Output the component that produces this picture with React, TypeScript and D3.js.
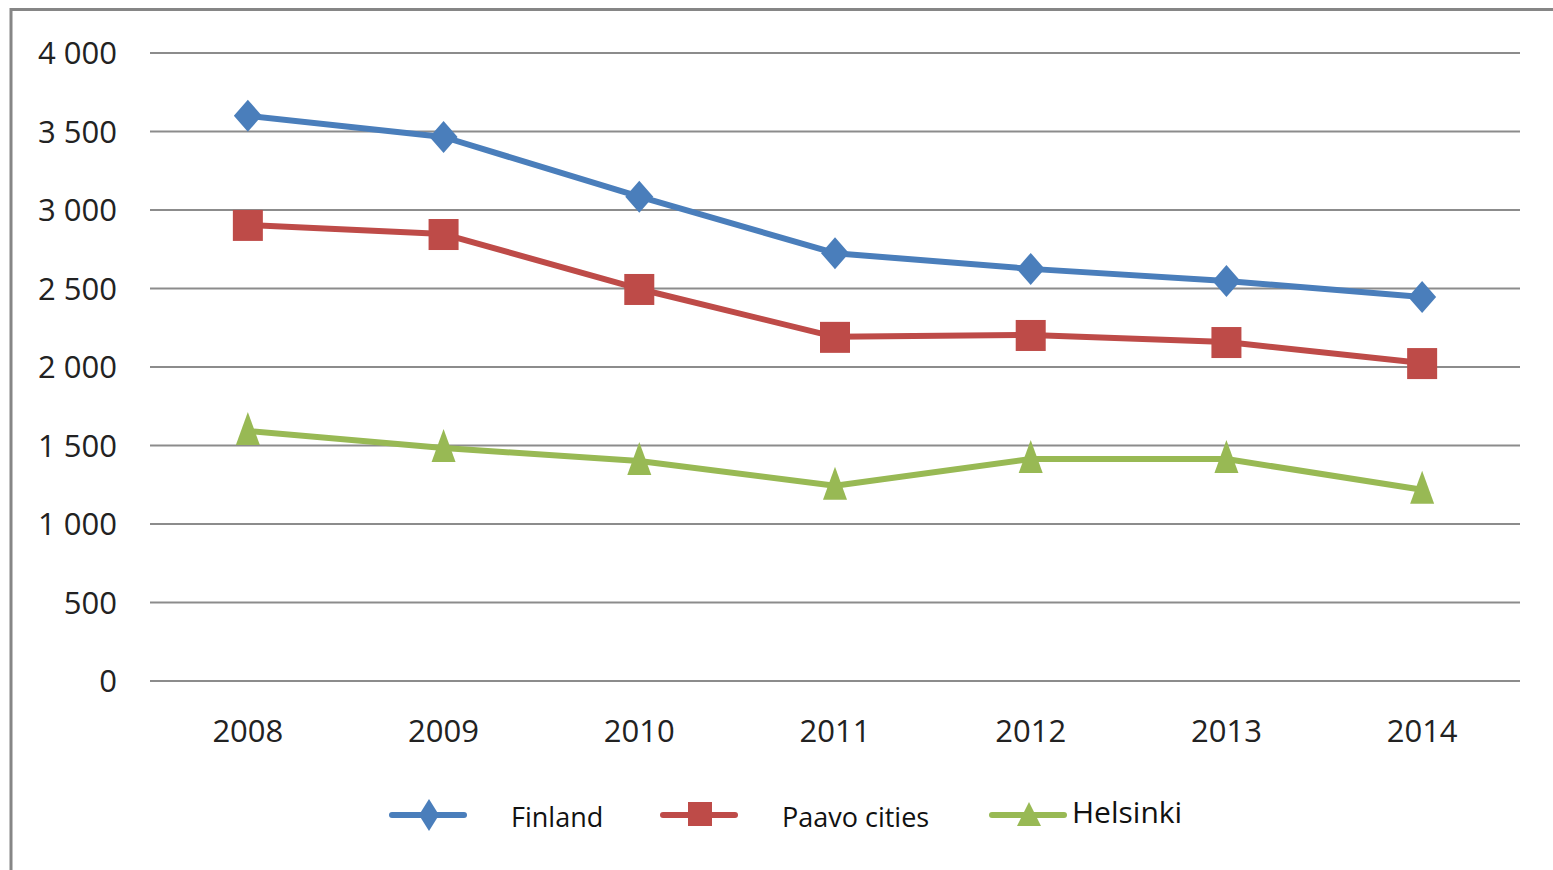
import { useEffect, useRef } from 'react';
import * as d3 from 'd3';

const years = ['2008', '2009', '2010', '2011', '2012', '2013', '2014'];
const finland = [3600, 3465, 3085, 2725, 2625, 2548, 2446];
const paavo = [2905, 2847, 2497, 2192, 2204, 2159, 2025];
const helsinki = [1592, 1484, 1401, 1244, 1414, 1414, 1218];
const yTicks = [0, 500, 1000, 1500, 2000, 2500, 3000, 3500, 4000];

const series = [
  { name: 'Finland', values: finland, color: '#4A7EBB', shape: 'diamond' },
  { name: 'Paavo cities', values: paavo, color: '#BE4B48', shape: 'square' },
  { name: 'Helsinki', values: helsinki, color: '#98B954', shape: 'triangle' },
];

const W = 1553, H = 870;
const font = '"Open Sans", sans-serif';
const fmt = (v: number) => d3.format(',')(v).replace(',', ' ');

function marker(g: any, shape: string, x: number, y: number, color: string) {
  if (shape === 'diamond') {
    g.append('path').attr('d', `M${x},${y - 16}L${x + 14},${y}L${x},${y + 16}L${x - 14},${y}Z`).attr('fill', color);
  } else if (shape === 'square') {
    g.append('rect').attr('x', x - 15).attr('y', y - 15).attr('width', 30).attr('height', 31).attr('fill', color);
  } else {
    g.append('path').attr('d', `M${x},${y - 19}L${x + 12},${y + 14}L${x - 12},${y + 14}Z`).attr('fill', color);
  }
}

export default function App() {
  const ref = useRef<SVGSVGElement>(null);

  useEffect(() => {
    const svg = d3.select(ref.current);
    svg.selectAll('*').remove();

    // outer frame (cut at right and bottom)
    svg.append('path').attr('d', `M11,${H}V9.5H${W}`).attr('fill', 'none')
      .attr('stroke', '#868686').attr('stroke-width', 3);

    const x = d3.scaleBand().domain(years).range([150, 1520]);
    const y = d3.scaleLinear().domain([0, 4000]).range([681, 53]);

    const grid = svg.append('g');
    yTicks.forEach(t => {
      grid.append('line').attr('x1', 150).attr('x2', 1520).attr('y1', y(t)).attr('y2', y(t))
        .attr('stroke', '#8c8c8c').attr('stroke-width', 2);
      grid.append('text').attr('x', 117).attr('y', y(t)).attr('dy', '0.36em')
        .attr('text-anchor', 'end').attr('font-family', font).attr('font-size', 31)
        .attr('fill', '#222').text(fmt(t));
    });

    years.forEach(yr => {
      svg.append('text').attr('x', x(yr)! + x.bandwidth() / 2).attr('y', 731).attr('dy', '0.36em')
        .attr('text-anchor', 'middle').attr('font-family', font).attr('font-size', 31)
        .attr('fill', '#222').text(yr);
    });

    const cx = (i: number) => x(years[i])! + x.bandwidth() / 2;
    const line = d3.line<number>().x((_, i) => cx(i)).y(d => y(d));

    series.forEach(s => {
      const g = svg.append('g');
      g.append('path').attr('d', line(s.values)).attr('fill', 'none')
        .attr('stroke', s.color).attr('stroke-width', 6).attr('stroke-linejoin', 'round');
      s.values.forEach((v, i) => marker(g, s.shape, cx(i), y(v), s.color));
    });

    // legend
    const legend = [
      { x0: 392, tx: 511, ty: 817 },
      { x0: 663, tx: 782, ty: 817 },
      { x0: 992, tx: 1072, ty: 812 },
    ];
    series.forEach((s, i) => {
      const l = legend[i];
      const g = svg.append('g');
      g.append('line').attr('x1', l.x0).attr('x2', l.x0 + 72).attr('y1', 815).attr('y2', 815)
        .attr('stroke', s.color).attr('stroke-width', 6).attr('stroke-linecap', 'round');
      const mx = l.x0 + 37;
      if (s.shape === 'diamond') {
        g.append('path').attr('d', `M${mx},799L${mx + 10},815L${mx},831L${mx - 10},815Z`).attr('fill', s.color);
      } else if (s.shape === 'square') {
        g.append('rect').attr('x', mx - 12).attr('y', 802).attr('width', 24).attr('height', 24).attr('fill', s.color);
      } else {
        g.append('path').attr('d', `M${mx},802L${mx + 12},826L${mx - 12},826Z`).attr('fill', s.color);
      }
      g.append('text').attr('x', l.tx).attr('y', l.ty).attr('dy', '0.36em')
        .attr('font-family', font).attr('font-size', i === 2 ? 30 : 27).attr('fill', '#111').text(s.name);
    });
  }, []);

  return <svg ref={ref} width={W} height={H} style={{ position: 'absolute', left: 0, top: 0, background: '#fff' }} />;
}
